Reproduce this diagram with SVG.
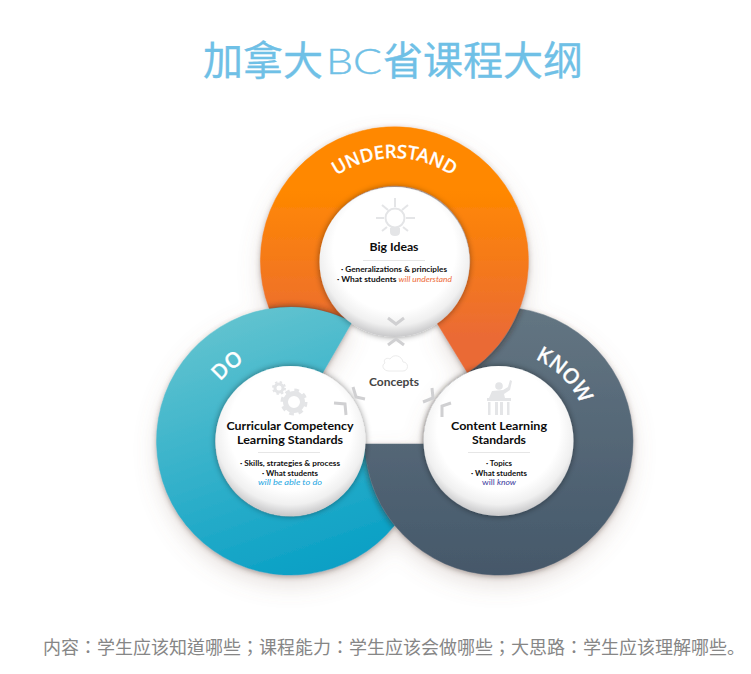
<svg xmlns="http://www.w3.org/2000/svg" width="751" height="674" viewBox="0 0 751 674">
<style>
text{font-family:"Lato","Noto Sans","Noto Sans CJK SC",sans-serif}
.cjk{font-family:"Noto Sans CJK SC",sans-serif}
.tc{font-family:"Noto Sans CJK TC",sans-serif}
.title{font-size:40px;fill:#6fc0e6;stroke:#6fc0e6;stroke-width:0.3}
.bc{font-family:"Lato","Noto Sans",sans-serif;font-weight:300;font-size:36px;fill:#6fc0e6;stroke:#6fc0e6;stroke-width:0.4}
.foot{font-size:18px;fill:#868686}
.head{font-size:12px;font-weight:700;fill:#0c0c0c;text-anchor:middle}
.small{font-size:8px;font-weight:700;fill:#111}
.ring{font-family:"Noto Sans",sans-serif;font-size:18.5px;font-weight:500;fill:#fff;stroke:#fff;stroke-width:0.3}
.chev{fill:none;stroke:#d0d0d2;stroke-width:3}
.ic{fill:#e4e5e7}
.icl{fill:none;stroke:#e4e5e7;stroke-width:2}
.rule{stroke:#e6e6e6;stroke-width:1}
.disc{fill:url(#discG);filter:url(#discS)}
</style>
<defs>
<linearGradient id="gO" gradientUnits="userSpaceOnUse" x1="0" y1="190" x2="0" y2="340"><stop offset="0" stop-color="#ff8800"/><stop offset="1" stop-color="#ea6a36"/></linearGradient>
<linearGradient id="gT" gradientUnits="userSpaceOnUse" x1="240" y1="320" x2="330" y2="575"><stop offset="0" stop-color="#5fc2cf"/><stop offset="1" stop-color="#069fc5"/></linearGradient>
<linearGradient id="gS" gradientUnits="userSpaceOnUse" x1="0" y1="310" x2="0" y2="575"><stop offset="0" stop-color="#637582"/><stop offset="1" stop-color="#45586a"/></linearGradient>
<radialGradient id="discG" cx="50%" cy="42%" r="60%"><stop offset="0" stop-color="#fff"/><stop offset="0.68" stop-color="#fff"/><stop offset="0.84" stop-color="#f0f0f0"/><stop offset="1" stop-color="#bdbdbf"/></radialGradient>
<filter id="discS" x="-20%" y="-20%" width="140%" height="140%"><feDropShadow dx="0" dy="0" stdDeviation="3" flood-color="#000" flood-opacity="0.45"/></filter>
<filter id="page" filterUnits="userSpaceOnUse" x="100" y="90" width="600" height="540">
<feGaussianBlur in="SourceAlpha" stdDeviation="11" result="b1"/><feOffset in="b1" dy="10" result="o1"/><feFlood flood-color="#8f7468" flood-opacity="0.22"/><feComposite in2="o1" operator="in" result="s1"/>
<feGaussianBlur in="SourceAlpha" stdDeviation="2.5" result="b2"/><feOffset in="b2" dy="2" result="o2"/><feFlood flood-color="#4a3a34" flood-opacity="0.4"/><feComposite in2="o2" operator="in" result="s2"/>
<feMerge><feMergeNode in="s1"/><feMergeNode in="s2"/><feMergeNode in="SourceGraphic"/></feMerge></filter>
<filter id="cast" filterUnits="userSpaceOnUse" x="100" y="90" width="600" height="540"><feGaussianBlur in="SourceAlpha" stdDeviation="3.5" result="b"/><feFlood flood-color="#30201a" flood-opacity="0.8"/><feComposite in2="b" operator="in"/></filter>
<path id="pO" d="M437,323 L467.6,373 A134,134 0 1 0 269.3,308.7 A134,134 0 0 1 352,322 A75,75 0 1 1 437,323 Z"/>
<path id="pT" d="M322,374 L352,322 A134,134 0 1 0 394.5,525.6 A134,134 0 0 1 365,444 A75,75 0 1 1 322,374 Z"/>
<path id="pS" d="M424,444 L365,444 A134,134 0 1 0 519.7,308.7 A134,134 0 0 1 467.6,373 A75,75 0 0 0 424,444 Z"/>
<clipPath id="cO"><use href="#pO"/></clipPath>
<clipPath id="cT"><use href="#pT"/></clipPath>
<clipPath id="cS"><use href="#pS"/></clipPath>
<path id="arcU" d="M291.5,261 A103,103 0 0 1 497.5,261"/>
<path id="arcD" d="M198.6,441 A92,92 0 0 1 382.6,441"/>
<path id="arcK" d="M408.4,441 A90,90 0 0 1 588.4,441"/>
</defs>

<text class="title cjk" x="203" y="75">加拿大</text>
<text class="bc" x="326" y="74" textLength="56" lengthAdjust="spacingAndGlyphs">BC</text>
<text class="title cjk" x="383" y="75">省课程大纲</text>

<g id="rings">
<g filter="url(#page)">
<use href="#pO" fill="url(#gO)" stroke="url(#gO)" stroke-width="0.5"/>
<use href="#pT" fill="url(#gT)" stroke="url(#gT)" stroke-width="0.5"/>
<use href="#pS" fill="url(#gS)" stroke="url(#gS)" stroke-width="0.5"/>
</g>
<g clip-path="url(#cO)"><use href="#pT" filter="url(#cast)"/></g>
<g clip-path="url(#cT)"><use href="#pS" filter="url(#cast)"/></g>
<g clip-path="url(#cS)"><use href="#pO" filter="url(#cast)"/></g>
<text class="ring" text-anchor="middle"><textPath href="#arcU" startOffset="50%">UNDERSTAND</textPath></text>
<text class="ring" text-anchor="middle" style="font-size:21px" transform="rotate(-40 290.6 441)"><textPath href="#arcD" startOffset="50%">DO</textPath></text>
<text class="ring" text-anchor="middle" style="font-size:21px" transform="rotate(45 498.4 441)"><textPath href="#arcK" startOffset="50%">KNOW</textPath></text>
</g>

<g id="big-ideas">
<circle class="disc" cx="394.5" cy="262" r="75"/>
<circle class="icl" cx="395" cy="218" r="9.5"/>
<path class="ic" d="M390,228 H400 V232 Q400,236 395,236 Q390,236 390,232 Z"/>
<path class="icl" d="M395,198 V207 M376,218 H384 M406,218 H415 M382,205 L388,210 M408,205 L402,210 M382,231 L387,227 M408,231 L403,227"/>
<text class="head" x="394" y="251" textLength="49" lengthAdjust="spacingAndGlyphs">Big Ideas</text>
<line class="rule" x1="363" y1="260.5" x2="425" y2="260.5"/>
<text class="small" x="341" y="272" textLength="106" lengthAdjust="spacingAndGlyphs">· Generalizations &amp; principles</text>
<text class="small" x="337" y="282" textLength="115" lengthAdjust="spacingAndGlyphs">· What students <tspan fill="#ee6a36" font-style="italic" font-weight="400">will understand</tspan></text>
<path class="chev" d="M388,318 L396,324 L404,318"/>
</g>

<g id="curricular">
<circle class="disc" cx="290.5" cy="441" r="75"/>
<circle cx="294" cy="402" r="8.5" fill="none" stroke="#e4e5e7" stroke-width="5"/>
<circle cx="294" cy="402" r="12" fill="none" stroke="#e4e5e7" stroke-width="3" stroke-dasharray="4.7 4.72"/>
<circle cx="279" cy="388" r="4" fill="none" stroke="#e4e5e7" stroke-width="3"/>
<circle cx="279" cy="388" r="6" fill="none" stroke="#e4e5e7" stroke-width="2" stroke-dasharray="2.35 2.36"/>
<text class="head" x="290" y="430" textLength="127" lengthAdjust="spacingAndGlyphs">Curricular Competency</text>
<text class="head" x="290" y="444" textLength="106" lengthAdjust="spacingAndGlyphs">Learning Standards</text>
<line class="rule" x1="258" y1="452.5" x2="320" y2="452.5"/>
<text class="small" x="240" y="466" textLength="100" lengthAdjust="spacingAndGlyphs">· Skills, strategies &amp; process</text>
<text class="small" x="262" y="476" textLength="56" lengthAdjust="spacingAndGlyphs">· What students</text>
<text class="small" x="258" y="485" textLength="64" lengthAdjust="spacingAndGlyphs" style="fill:#1ea6e2;font-style:italic;font-weight:400">will be able to do</text>
<path class="chev" d="M334,403 L345,404 L346,415"/>
</g>

<g id="content-learning">
<circle class="disc" cx="498.5" cy="441" r="75"/>
<circle class="ic" cx="499" cy="386" r="3.8"/>
<path class="ic" d="M489,398 L492,391 L503,390 L508,387 L510,380 L512,381 L510,390 L504,394 L505,398 Z"/>
<rect class="ic" x="487" y="398" width="24" height="3"/>
<rect class="ic" x="488" y="402" width="2.5" height="13"/>
<rect class="ic" x="507" y="402" width="2.5" height="13"/>
<rect class="ic" x="495" y="402" width="3" height="13"/>
<rect class="ic" x="500" y="402" width="3" height="13"/>
<text class="head" x="499" y="430" textLength="96" lengthAdjust="spacingAndGlyphs">Content Learning</text>
<text class="head" x="499" y="444" textLength="54" lengthAdjust="spacingAndGlyphs">Standards</text>
<line class="rule" x1="468" y1="452.5" x2="530" y2="452.5"/>
<text class="small" x="486" y="466" textLength="26" lengthAdjust="spacingAndGlyphs">· Topics</text>
<text class="small" x="471" y="476" textLength="56" lengthAdjust="spacingAndGlyphs">· What students</text>
<text class="small" x="482" y="485" textLength="34" lengthAdjust="spacingAndGlyphs" style="fill:#3a3a9e;font-weight:400">will <tspan font-style="italic">know</tspan></text>
<path class="chev" d="M451,403 L442,406 L442,417"/>
</g>

<g id="concepts">
<path d="M389,371 H403 C409,371 409,362 403,362 C402,356 394,353 390,359 C386,357 383,360 385,363 C381,365 383,371 389,371 Z" fill="none" stroke="#ececec" stroke-width="1"/>
<text class="head" x="394" y="386" textLength="50" lengthAdjust="spacingAndGlyphs" style="fill:#444">Concepts</text>
<path class="chev" d="M388,345 L396,339 L404,345"/>
<path class="chev" d="M353,387 L356,397 L365,399"/>
<path class="chev" d="M432,388 L433,398 L423,402"/>
</g>

<text class="foot tc" x="43" y="654">内容：学生应该知道哪些；课程能力：学生应该会做哪些；大思路：学生应该理解哪些<tspan class="cjk">。</tspan></text>
</svg>
